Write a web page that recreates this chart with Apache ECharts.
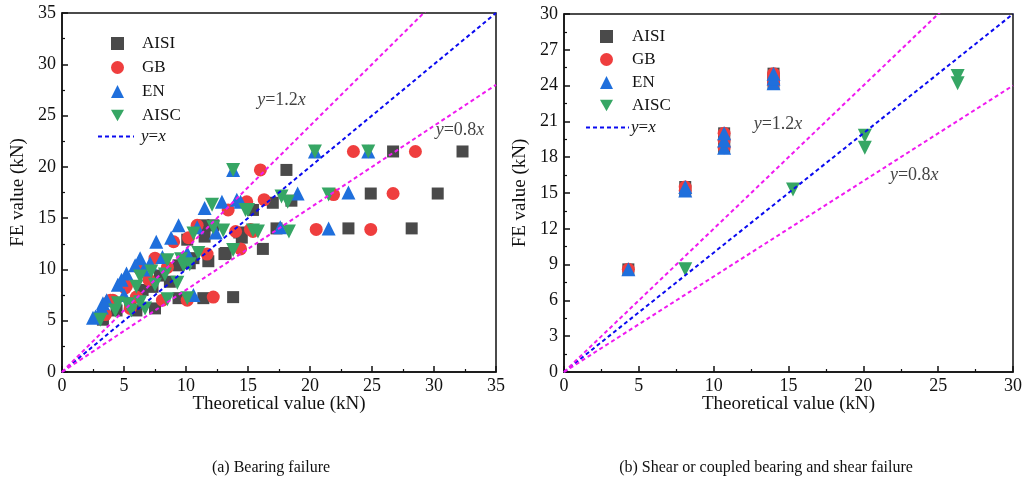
<!DOCTYPE html>
<html><head><meta charset="utf-8">
<script src="https://cdn.jsdelivr.net/npm/echarts@6/dist/echarts.min.js"></script>
<style>html,body{margin:0;padding:0;background:#fff}#c{width:1025px;height:481px}</style>
</head><body><div id="c"></div>
<script>
// ---------- data ----------
const seriesNames = ['AISI', 'GB', 'EN', 'AISC'];
const tickLabelsA = [0, 5, 10, 15, 20, 25, 30, 35];
const tickLabelsB = [0, 3, 6, 9, 12, 15, 18, 21, 24, 27, 30];

// (a) Bearing failure : [theoretical, FE]
const aisiA = [[32.3,21.5],[26.7,21.5],[30.3,17.4],[24.9,17.4],[28.2,14.0],[23.1,14.0],[17.3,14.0],[18.1,19.7],[18.5,16.7],[17.0,16.5],[16.2,12.0],[13.8,7.3],[11.4,7.2],[9.4,7.2],[13.1,11.5],[11.5,13.2],[10.1,12.9],[14.3,13.6],[14.5,13.1],[15.4,15.8],[12.2,14.3],[11.4,14.3],[10.6,11.1],[9.4,10.4],[8.7,8.8],[7.9,9.4],[7.3,8.3],[6.5,8.0],[7.5,6.2],[6.0,6.0],[5.5,6.7],[4.4,6.0],[3.3,5.1],[13.2,11.6],[11.8,10.8],[10.3,10.6]];
const gbA = [[28.5,21.5],[23.5,21.5],[26.7,17.4],[21.9,17.3],[24.9,13.9],[20.5,13.9],[15.2,13.9],[16.0,19.7],[16.3,16.8],[14.9,16.6],[14.4,12.0],[12.2,7.3],[10.1,7.0],[8.1,7.0],[4.1,7.0],[11.7,11.5],[10.2,13.1],[9.0,12.7],[14.0,13.7],[13.4,15.8],[10.9,14.3],[15.4,13.7],[7.5,11.1],[5.2,8.4],[6.3,10.0],[7.0,9.0],[8.5,10.2],[6.0,7.3],[3.5,5.6],[5.5,6.2],[3.9,7.0],[5.1,8.2]];
const enA = [[24.7,21.5],[20.4,21.5],[13.8,19.7],[23.1,17.5],[19.0,17.4],[21.5,14.0],[17.6,14.1],[14.4,16.6],[14.1,16.8],[12.9,16.6],[11.5,16.0],[9.4,14.3],[8.8,13.1],[7.6,12.7],[10.9,14.1],[10.1,11.6],[6.3,11.1],[5.9,10.4],[5.2,9.6],[4.5,8.5],[7.1,10.6],[8.1,11.2],[3.3,6.7],[2.5,5.3],[10.6,7.5],[2.7,5.4],[3.2,6.3],[3.6,7.0],[4.8,9.0],[6.6,10.0],[5.0,7.5],[12.4,13.6]];
const aiscA = [[24.7,21.5],[20.4,21.5],[13.8,19.7],[21.5,17.3],[17.7,17.1],[18.2,16.6],[14.8,15.8],[15.4,13.8],[15.8,13.7],[18.3,13.7],[12.1,16.3],[15.0,15.8],[10.6,13.5],[13.0,13.8],[12.2,14.1],[13.8,11.9],[11.0,11.6],[9.8,10.4],[8.5,10.9],[9.3,8.7],[6.3,9.3],[7.5,8.5],[8.3,9.5],[6.0,8.3],[4.5,6.7],[4.3,6.0],[5.6,6.0],[6.7,6.2],[3.1,5.1],[10.1,7.2],[8.5,7.1],[6.3,6.8],[9.6,11.0],[10.3,10.5],[7.2,9.8],[5.3,6.6]];

// (b) Shear or coupled bearing and shear failure
const aisiB = [[4.3,8.6],[8.1,15.2],[8.1,15.5],[10.7,18.8],[10.7,19.4],[10.7,20.0],[14.0,24.2],[14.0,24.6],[14.0,25.0]];
const gbB   = [[4.3,8.6],[8.1,15.2],[8.1,15.5],[10.7,18.8],[10.7,19.4],[10.7,20.0],[14.0,24.2],[14.0,24.6],[14.0,25.0]];
const enB   = [[4.3,8.6],[8.1,15.2],[8.1,15.5],[10.7,18.8],[10.7,19.4],[10.7,20.0],[14.0,24.2],[14.0,24.6],[14.0,25.0]];
const aiscB = [[8.1,8.6],[15.3,15.3],[20.1,19.8],[20.1,18.8],[26.3,24.8],[26.3,24.2]];

// reference lines (end points; clipped by the axes)
const lineEqA = [[0,0],[35,35]];
const line12A = [[0,0],[35,42]];
const line08A = [[0,0],[35,28]];
const lineEqB = [[0,0],[30,30]];
const line12B = [[0,0],[30,36]];
const line08B = [[0,0],[30,24]];

// annotation anchors
const labelsA = [{pos:[17.7,26.5], k:'1.2'}, {pos:[32.1,23.6], k:'0.8'}];
const labelsB = [{pos:[14.3,20.8], k:'1.2'}, {pos:[23.4,16.5], k:'0.8'}];

const captions = ['(a) Bearing failure', '(b) Shear or coupled bearing and shear failure'];

// ---------- styling ----------
const FONT = '"Liberation Serif","Times New Roman",serif';
const colors = {AISI:'#4a4a4a', GB:'#ef3e3e', EN:'#1f6fdc', AISC:'#36a664'};
const DOWN_TRI = 'path://M0,0L20,0L10,17.32Z';
const symbols = {AISI:['rect',12], GB:['circle',13], EN:['triangle',14], AISC:[DOWN_TRI,14]};

function xAxis(gi, max, interval){
  return {gridIndex:gi, type:'value', min:0, max:max, interval:interval,
    name:'Theoretical value (kN)', nameLocation:'middle', nameGap:23, nameMoveOverlap:false,
    nameTextStyle:{fontFamily:FONT, fontSize:19, color:'#111'},
    axisLine:{onZero:false, lineStyle:{color:'#111', width:1.5}},
    axisTick:{inside:true, length:6, lineStyle:{color:'#111', width:1.5}},
    minorTick:{show:true, splitNumber:2, length:3, lineStyle:{color:'#111', width:1.2}},
    axisLabel:{fontFamily:FONT, fontSize:18, color:'#111', margin:5},
    splitLine:{show:false}};
}
function yAxis(gi, max, interval){
  return {gridIndex:gi, type:'value', min:0, max:max, interval:interval,
    name:'FE value (kN)', nameLocation:'middle', nameGap:34,
    nameTextStyle:{fontFamily:FONT, fontSize:19, color:'#111'},
    axisLine:{onZero:false, lineStyle:{color:'#111', width:1.5}},
    axisTick:{inside:true, length:6, lineStyle:{color:'#111', width:1.5}},
    minorTick:{show:true, splitNumber:2, length:3, lineStyle:{color:'#111', width:1.2}},
    axisLabel:{fontFamily:FONT, fontSize:18, color:'#111', margin:6},
    splitLine:{show:false}};
}
function scatter(name, data, gi){
  const s = symbols[name];
  return {name:name, type:'scatter', xAxisIndex:gi, yAxisIndex:gi, data:data,
    symbol:s[0], symbolSize:s[1],
    itemStyle:{color:colors[name], opacity:1}, z:2};
}
function refLine(name, data, gi, color){
  return {name:name, type:'line', xAxisIndex:gi, yAxisIndex:gi, data:data,
    symbol:'none', showSymbol:false, silent:true, z:5,
    lineStyle:{color:color, width:2, type:[4,3]}};
}
function labelSeries(items, gi){
  return {type:'scatter', xAxisIndex:gi, yAxisIndex:gi, symbolSize:0, silent:true, z:6,
    data: items.map(d => ({value:d.pos, k:d.k})),
    label:{show:true, position:'inside', fontFamily:FONT, fontSize:18, color:'#111',
      formatter: p => '{i|y}=' + p.data.k + '{i|x}',
      rich:{i:{fontStyle:'italic', fontFamily:FONT, fontSize:18, color:'#111'}}}};
}
function symLegend(left, top, gap, pad){
  return {orient:'vertical', left:left, top:top, padding:0, itemWidth:13, itemHeight:13, itemGap:gap,
    data:seriesNames, selectedMode:false,
    textStyle:{fontFamily:FONT, fontSize:17, color:'#111', padding:[0,0,0,pad]}};
}
function lineLegend(left, top, width, pad){
  return {orient:'vertical', left:left, top:top, padding:0, itemWidth:width, itemHeight:12,
    data:['y=x'], selectedMode:false,
    itemStyle:{opacity:0},
    formatter: () => '{i|y}={i|x}',
    textStyle:{fontFamily:FONT, fontSize:17, color:'#111', padding:[0,0,0,pad],
      rich:{i:{fontStyle:'italic', fontFamily:FONT, fontSize:17, color:'#111'}}}};
}

const option = {
  animation:false,
  backgroundColor:'#fff',
  grid:[
    {left:62, top:13, width:434, height:359, show:true, borderColor:'#111', borderWidth:1.5, backgroundColor:'transparent'},
    {left:564, top:14, width:451, height:358, show:true, borderColor:'#111', borderWidth:1.5, backgroundColor:'transparent'}
  ],
  xAxis:[xAxis(0, 35, 5), xAxis(1, 30, 5)],
  yAxis:[yAxis(0, 35, 5), yAxis(1, 30, 3)],
  legend:[symLegend(111, 35, 7, 13), lineLegend(97, 128, 36, 2), symLegend(600, 28, 6, 14), lineLegend(585, 119, 43, -3)],
  title:[
    {text:captions[0], left:266, top:455, textAlign:'center', textStyle:{fontFamily:FONT, fontSize:16, fontWeight:'normal', color:'#111'}},
    {text:captions[1], left:761, top:455, textAlign:'center', textStyle:{fontFamily:FONT, fontSize:16, fontWeight:'normal', color:'#111'}}
  ],
  series:[
    scatter('AISI', aisiA, 0), scatter('GB', gbA, 0), scatter('EN', enA, 0), scatter('AISC', aiscA, 0),
    refLine('y=x', lineEqA, 0, '#0a0af0'), refLine('1.2', line12A, 0, '#f01af0'), refLine('0.8', line08A, 0, '#f01af0'),
    labelSeries(labelsA, 0),
    scatter('AISI', aisiB, 1), scatter('GB', gbB, 1), scatter('EN', enB, 1), scatter('AISC', aiscB, 1),
    refLine('y=x', lineEqB, 1, '#0a0af0'), refLine('1.2', line12B, 1, '#f01af0'), refLine('0.8', line08B, 1, '#f01af0'),
    labelSeries(labelsB, 1)
  ]
};
const chart = echarts.init(document.getElementById('c'), null, {renderer:'canvas'});
chart.setOption(option);
</script></body></html>
